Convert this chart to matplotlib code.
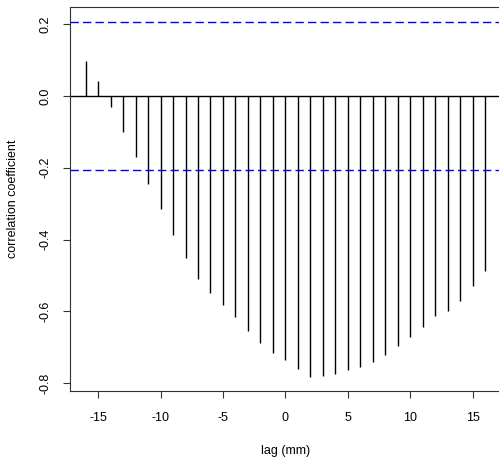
import numpy as np
import matplotlib
matplotlib.use('Agg')
import matplotlib.pyplot as plt

plt.rcParams['font.family'] = ['Liberation Sans', 'DejaVu Sans']
plt.rcParams['axes.unicode_minus'] = False

# cross-correlation by lag
lags = np.arange(-16, 17)
ccf = [0.096, 0.041, -0.030, -0.101, -0.170, -0.244, -0.315, -0.386,
       -0.451, -0.509, -0.548, -0.582, -0.617, -0.654, -0.687, -0.715,
       -0.736, -0.761, -0.782, -0.779, -0.774, -0.764, -0.756, -0.740,
       -0.722, -0.697, -0.672, -0.644, -0.614, -0.599, -0.571, -0.528,
       -0.488]
ci = 0.207  # approx 95% bound

fig = plt.figure(figsize=(4.99, 4.61), dpi=100)
ax = fig.add_axes([0.1397, 0.152, 0.8643, 0.832])

ax.vlines(lags, 0, ccf, color='black', linewidth=1.0, zorder=2)
ax.axhline(0, color='black', linewidth=1.0, zorder=2)
for c in (ci, -ci):
    ax.axhline(c, color='#0000ff', linewidth=1.0, dashes=(6, 3),
               zorder=3, snap=True)

lo = min(min(ccf), -ci)
hi = max(max(ccf), ci)
pad = 0.04 * (hi - lo)
ax.set_ylim(lo - pad, hi + pad)
ax.set_xlim(-16 - 0.04 * 32, 16 + 0.04 * 32)

ax.set_xticks([-15, -10, -5, 0, 5, 10, 15])
ax.set_yticks([-0.8, -0.6, -0.4, -0.2, 0.0, 0.2])
ax.set_yticklabels(['-0.8', '-0.6', '-0.4', '-0.2', '0.0', '0.2'],
                   rotation=90, va='center')
ax.tick_params(direction='out', length=5, width=0.8, labelsize=9,
               color='#333333')
ax.tick_params(axis='x', pad=10)
ax.tick_params(axis='y', pad=8)

for s in ax.spines.values():
    s.set_linewidth(0.8)
    s.set_color('#333333')

ax.set_xlabel('lag (mm)', fontsize=9, labelpad=15)
ax.set_ylabel('correlation coefficient', fontsize=9, labelpad=15)

fig.savefig('out.png', dpi=100)
